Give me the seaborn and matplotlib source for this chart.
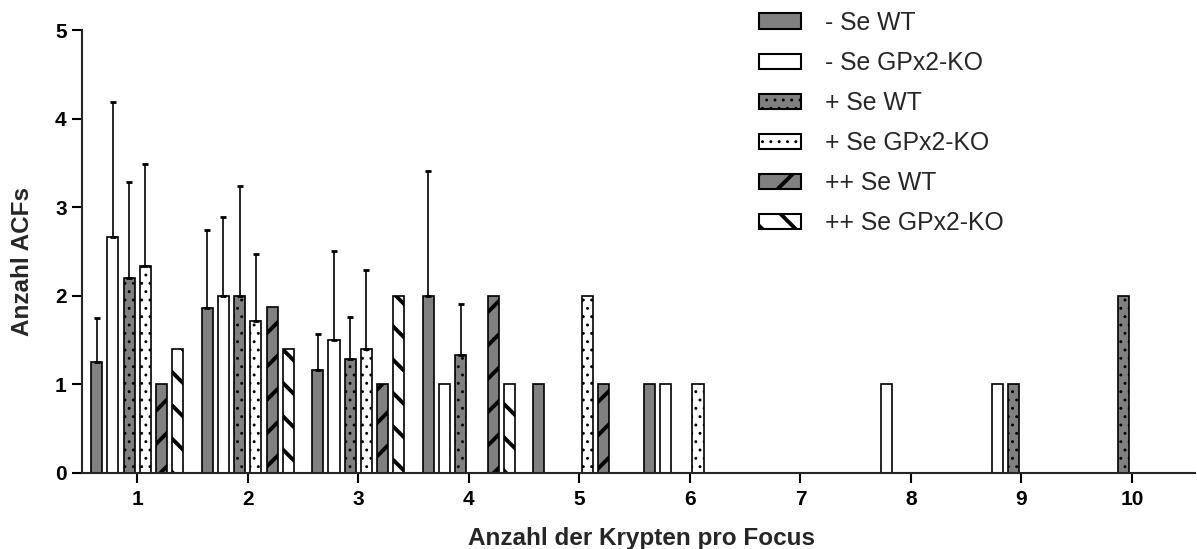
import numpy as np
import pandas as pd
import matplotlib
matplotlib.use("Agg")
import matplotlib.pyplot as plt
from matplotlib.patches import Patch, Rectangle
import seaborn as sns

# ---------------- data ----------------
categories = [1, 2, 3, 4, 5, 6, 7, 8, 9, 10]
groups = ["- Se WT", "- Se GPx2-KO", "+ Se WT", "+ Se GPx2-KO", "++ Se WT", "++ Se GPx2-KO"]

neg_wt = [1.25, 1.857, 1.167, 2.0, 1.0, 1.0, 0, 0, 0, 0]
neg_ko = [2.667, 2.0, 1.5, 1.0, 0, 1.0, 0, 1.0, 1.0, 0]
pos_wt = [2.2, 2.0, 1.286, 1.333, 0, 0, 0, 0, 1.0, 2.0]
pos_ko = [2.333, 1.714, 1.4, 0, 2.0, 1.0, 0, 0, 0, 0]
pp_wt = [1.0, 1.875, 1.0, 2.0, 1.0, 0, 0, 0, 0, 0]
pp_ko = [1.4, 1.4, 2.0, 1.0, 0, 0, 0, 0, 0, 0]

neg_wt_err = [0.50, 0.89, 0.40, 1.41, 0, 0, 0, 0, 0, 0]
neg_ko_err = [1.52, 0.89, 1.00, 0, 0, 0, 0, 0, 0, 0]
pos_wt_err = [1.09, 1.24, 0.48, 0.57, 0, 0, 0, 0, 0, 0]
pos_ko_err = [1.16, 0.76, 0.89, 0, 0, 0, 0, 0, 0, 0]
pp_wt_err = [0, 0, 0, 0, 0, 0, 0, 0, 0, 0]
pp_ko_err = [0, 0, 0, 0, 0, 0, 0, 0, 0, 0]

values = [neg_wt, neg_ko, pos_wt, pos_ko, pp_wt, pp_ko]
errors = [neg_wt_err, neg_ko_err, pos_wt_err, pos_ko_err, pp_wt_err, pp_ko_err]

# ---------------- styles ----------------
GRAY = "#808080"
colors = [GRAY, "white", GRAY, "white", GRAY, "white"]
hatches = ["", "", "..", "..", "/", "\\"]
hatch_lw = [1.0, 1.0, 0.9, 0.9, 2.8, 2.8]
TOTAL_W = 0.88

rows = []
for g, vals in zip(groups, values):
    for c, v in zip(categories, vals):
        rows.append({"Krypten": c, "ACFs": v, "Gruppe": g})
df = pd.DataFrame(rows)

sns.set_theme(style="ticks")
plt.rcParams["font.family"] = ["Liberation Sans", "DejaVu Sans"]
plt.rcParams["hatch.color"] = "black"
plt.rcParams["hatch.linewidth"] = 1.5

W, H = 1197, 549
fig = plt.figure(figsize=(W / 100, H / 100), dpi=100)
ax = fig.add_axes([82 / W, (H - 473) / H, (1195 - 82) / W, (473 - 30) / H])

sns.barplot(data=df, x="Krypten", y="ACFs", hue="Gruppe", order=categories,
            hue_order=groups, palette=colors, saturation=1, width=TOTAL_W, gap=0.32,
            edgecolor="black", linewidth=1.2, errorbar=None, legend=False, ax=ax)

slot = TOTAL_W / len(groups)
for bar in list(ax.patches):
    if not isinstance(bar, Rectangle):
        continue
    xc = bar.get_x() + bar.get_width() / 2
    ci = int(round(xc))
    hi = int(round((xc - ci) / slot + (len(groups) - 1) / 2))
    if not (0 <= ci < len(categories) and 0 <= hi < len(groups)):
        continue
    bar.set_hatch(hatches[hi])
    if hasattr(bar, "set_hatch_linewidth"):
        bar.set_hatch_linewidth(hatch_lw[hi])
    h = bar.get_height()
    if not np.isfinite(h) or h <= 0:
        bar.set_visible(False)
        continue
    e = errors[hi][ci]
    if e > 0:
        ax.errorbar([xc], [h], yerr=[[0], [e]], fmt="none", ecolor="black",
                    elinewidth=1.2, capsize=2.3, capthick=2.0, zorder=1)

ax.set_xlim(-0.5, 9.57)
ax.set_ylim(0, 5)
ax.set_yticks([0, 1, 2, 3, 4, 5])
sns.despine(ax=ax)
for s in ["left", "bottom"]:
    ax.spines[s].set_linewidth(1.5)
ax.tick_params(axis="both", width=1.5, length=7.5, labelsize=15, color="black",
               labelcolor="black")
ax.tick_params(axis="y", pad=3.5)
ax.tick_params(axis="x", pad=4.5)
for lab in ax.get_xticklabels() + ax.get_yticklabels():
    lab.set_fontweight("bold")
    lab.set_fontsize(15)

ax.set_xlabel("Anzahl der Krypten pro Focus", fontsize=17.5, fontweight="bold")
ax.set_ylabel("Anzahl ACFs", fontsize=17.5, fontweight="bold")
ax.xaxis.set_label_coords((642 - 82) / (1195 - 82), -(538 - 473) / (473 - 30))
ax.yaxis.set_label_coords(-(82 - 23) / (1195 - 82), (473 - 261) / (473 - 30))
ax.xaxis.label.set_va("center")
ax.yaxis.label.set_va("center")

handles = [Patch(facecolor=colors[i], edgecolor="black", hatch=hatches[i], linewidth=1.5,
                 label=groups[i]) for i in range(6)]
leg = fig.legend(handles=handles, loc="upper left", bbox_to_anchor=(759 / W, 1 - 11 / H),
                 frameon=False, fontsize=17.8, handlelength=1.7, handleheight=0.6,
                 handletextpad=0.95, labelspacing=0.65, borderpad=0, borderaxespad=0)
for i, p in enumerate(leg.get_patches()):
    if hasattr(p, "set_hatch_linewidth"):
        p.set_hatch_linewidth(hatch_lw[i])

fig.savefig("out.png", dpi=100)
